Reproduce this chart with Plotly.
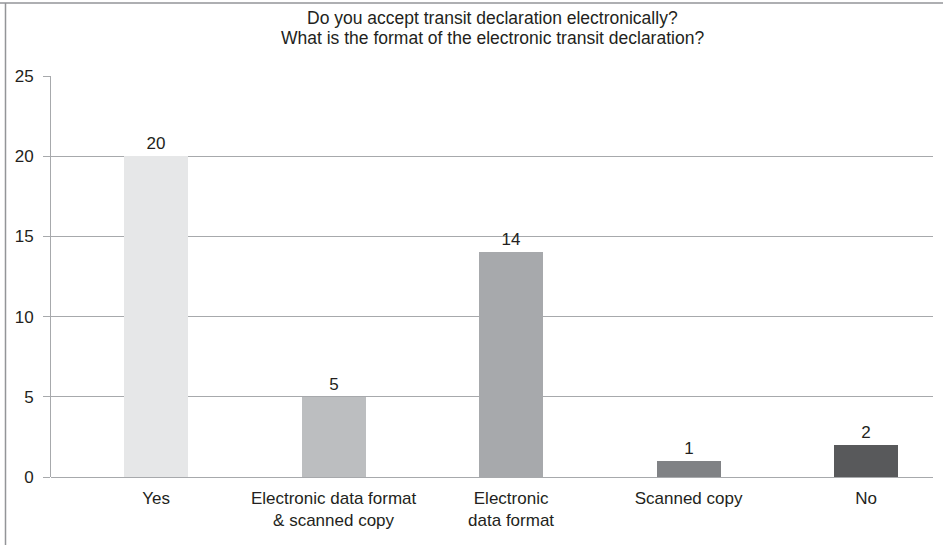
import plotly.graph_objects as go

categories = ["Yes", "Electronic data format<br>& scanned copy", "Electronic<br>data format", "Scanned copy", "No"]
values = [20, 5, 14, 1, 2]
bar_colors = ["#e6e7e8", "#bcbec0", "#a7a9ac", "#808285", "#58595b"]
title_lines = ["Do you accept transit declaration electronically?",
               "What is the format of the electronic transit declaration?"]

x_idx = list(range(len(categories)))
FONT = "Liberation Sans, Arial, sans-serif"
TXT = "#231f20"

fig = go.Figure()
fig.add_trace(go.Bar(
    x=x_idx, y=values, width=0.36,
    marker=dict(color=bar_colors, line=dict(width=0)),
    text=[str(v) for v in values], textposition="outside",
    textfont=dict(size=17, color=TXT, family=FONT),
    cliponaxis=False, showlegend=False,
))

fig.update_layout(
    width=943, height=545,
    margin=dict(l=51, r=10, t=76, b=68),
    paper_bgcolor="white", plot_bgcolor="white",
    font=dict(family=FONT, color=TXT, size=17),
    bargap=0,
)
for i, line in enumerate(title_lines):
    ypix = 18 + 20 * i  # centre of the line, px from top
    fig.add_annotation(
        text=line, xref="paper", yref="paper",
        x=0.5, xanchor="center", y=1 + (76 - ypix) / 401, yanchor="middle",
        showarrow=False, font=dict(size=17.5, color=TXT, family=FONT),
    )
fig.update_xaxes(
    tickmode="array", tickvals=x_idx, ticktext=categories,
    range=[-0.592, 4.377], showgrid=False, zeroline=False,
    showline=False, ticks="", tickfont=dict(size=17, color=TXT, family=FONT),
    ticklabelstandoff=9,
)
fig.update_yaxes(
    range=[0, 25], tickvals=[0, 5, 10, 15, 20, 25],
    showgrid=True, gridcolor="#a7a9ac", gridwidth=1,
    showline=True, linecolor="#a7a9ac", linewidth=1,
    ticks="outside", ticklen=7, tickcolor="#a7a9ac",
    zeroline=True, zerolinecolor="#a7a9ac", zerolinewidth=1,
    tickfont=dict(size=17, color=TXT, family=FONT),
    ticklabelstandoff=6,
)
# outer frame (top and left, as in the reference)
fig.add_shape(type="line", xref="paper", yref="paper",
              x0=-51/882, x1=1 + 10/882, y0=1 + 73/401, y1=1 + 73/401,
              line=dict(color="#939598", width=1.5))
fig.add_shape(type="line", xref="paper", yref="paper",
              x0=-45.5/882, x1=-45.5/882, y0=-68/401, y1=1 + 73/401,
              line=dict(color="#939598", width=1.5))

fig.write_html("out.html")
